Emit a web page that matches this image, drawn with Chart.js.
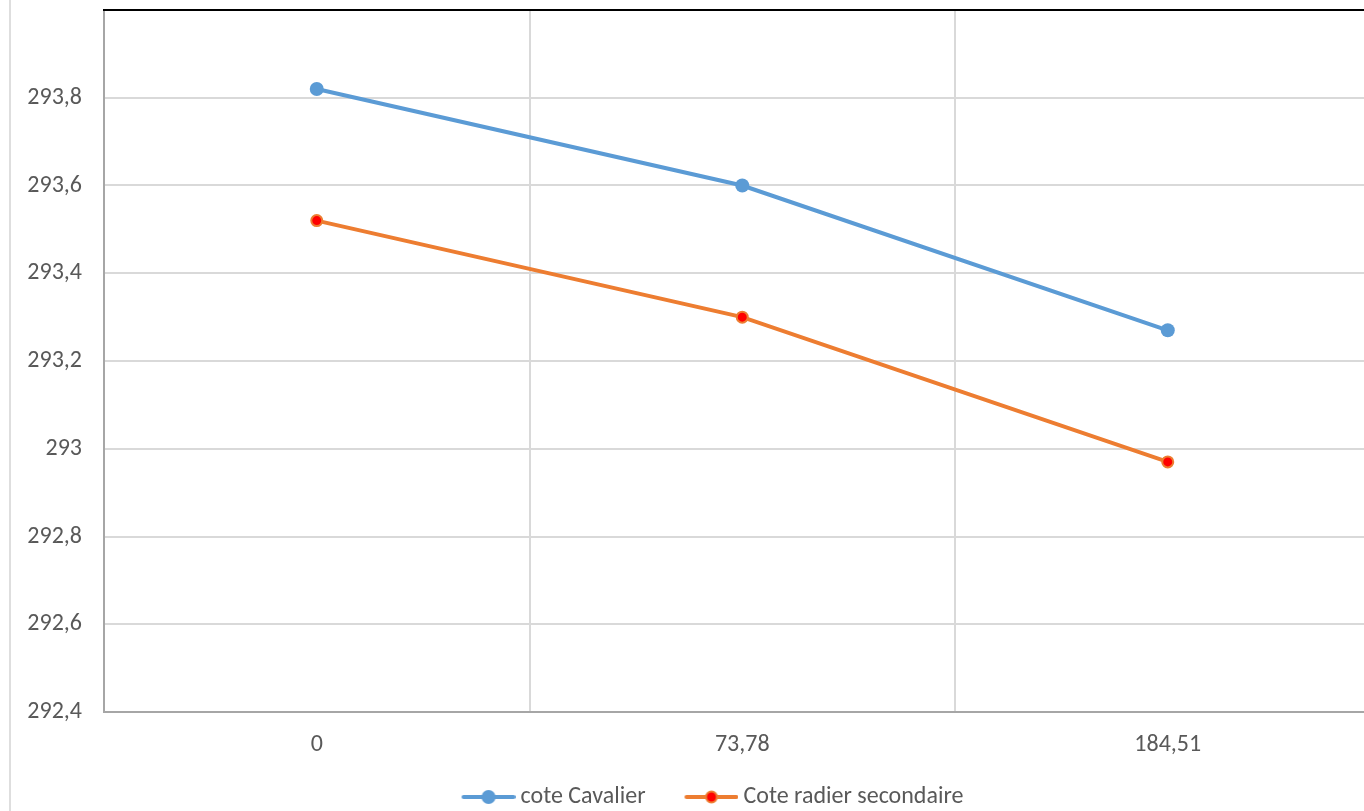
<!DOCTYPE html>
<html>
<head>
<meta charset="utf-8">
<style>
  html, body { margin: 0; padding: 0; background: #fff; overflow: hidden; }
  #wrap { position: relative; width: 1364px; height: 811px; overflow: hidden; }
  #box { position: absolute; left: 0; top: 0; width: 1388px; height: 811px; }
</style>
<script src="https://cdn.jsdelivr.net/npm/chart.js@4/dist/chart.umd.min.js"></script>
</head>
<body>
<div id="wrap"><div id="box"><canvas id="c" width="1388" height="811"></canvas></div></div>
<script>
// Stations (m) along the profile
const stations = ['0', '73,78', '184,51'];
// Elevations (m)
const coteCavalier = [293.82, 293.60, 293.27];
const coteRadierSecondaire = [293.52, 293.30, 292.97];
// Vertical axis
const yMin = 292.4;
const yMax = 294.0;
const yStep = 0.2;

const FONT = "Carlito, Calibri, Lato, sans-serif";
const FONT_SIZE = 24;
const TEXT = '#595959';
const BLUE = '#5b9bd5';
const ORANGE = '#ed7d31';
const RED = '#ff0000';
const LINE_W = 4;

// Legend glyph: short line with a marker in its middle, drawn into a small canvas
function legendGlyph(lineColor, fill, stroke, r, bw) {
  const c = document.createElement('canvas');
  c.width = 80; c.height = 20;
  const g = c.getContext('2d');
  const x0 = 26, x1 = 80, cy = 10;
  g.strokeStyle = lineColor; g.lineWidth = LINE_W; g.lineCap = 'round';
  g.beginPath(); g.moveTo(x0 + 2, cy); g.lineTo(x1 - 2, cy); g.stroke();
  g.beginPath(); g.arc((x0 + x1) / 2, cy, r, 0, Math.PI * 2);
  g.fillStyle = fill; g.fill();
  if (bw) { g.lineWidth = bw; g.strokeStyle = stroke; g.stroke(); }
  return c;
}
const glyphs = [
  legendGlyph(BLUE, BLUE, null, 7, 0),
  legendGlyph(ORANGE, RED, ORANGE, 5.5, 2)
];

const frame = {
  id: 'frame',
  beforeDraw(chart) {
    const ctx = chart.ctx;
    ctx.save();
    ctx.fillStyle = '#dedede';
    ctx.fillRect(9, 0, 2, chart.height);
    ctx.restore();
  },
  afterDraw(chart) {
    const {ctx, chartArea} = chart;
    ctx.save();
    ctx.fillStyle = '#000';
    ctx.fillRect(chartArea.left - 1, chartArea.top - 1, chart.width, 2);
    ctx.restore();
  }
};

const fmt = v => {
  const r = Math.round(v * 10) / 10;
  return String(r).replace('.', ',');
};

new Chart(document.getElementById('c'), {
  type: 'line',
  data: {
    labels: stations,
    datasets: [
      {
        label: 'cote Cavalier',
        data: coteCavalier,
        borderColor: BLUE,
        backgroundColor: BLUE,
        borderWidth: LINE_W,
        pointRadius: 7,
        pointBorderWidth: 0,
        pointBackgroundColor: BLUE,
        pointStyle: 'circle',
        tension: 0
      },
      {
        label: 'Cote radier secondaire',
        data: coteRadierSecondaire,
        borderColor: ORANGE,
        backgroundColor: RED,
        borderWidth: LINE_W,
        pointRadius: 5.5,
        pointBorderWidth: 2,
        pointBorderColor: ORANGE,
        pointBackgroundColor: RED,
        pointStyle: 'circle',
        tension: 0
      }
    ]
  },
  options: {
    responsive: false,
    animation: false,
    layout: { padding: { left: 18, top: 10, right: 0, bottom: 0 } },
    plugins: {
      tooltip: { enabled: false },
      legend: {
        position: 'bottom',
        maxHeight: 46,
        labels: {
          color: TEXT,
          font: { family: FONT, size: FONT_SIZE },
          usePointStyle: true,
          pointStyleWidth: 66,
          boxHeight: 20,
          padding: 20,
          generateLabels(chart) {
            return chart.data.datasets.map((ds, i) => ({
              text: ds.label,
              fontColor: TEXT,
              pointStyle: glyphs[i],
              lineWidth: 0,
              strokeStyle: 'transparent',
              fillStyle: 'transparent',
              datasetIndex: i,
              hidden: false
            }));
          }
        }
      }
    },
    scales: {
      x: {
        offset: true,
        grid: { offset: true, color: '#d9d9d9', lineWidth: 2, drawTicks: false },
        border: { color: '#a6a6a6', width: 2 },
        ticks: { color: TEXT, font: { family: FONT, size: FONT_SIZE }, padding: 19, maxRotation: 0 },
        afterFit(scale) {
          const lg = scale.chart.legend ? scale.chart.legend.height : 0;
          scale.height = 811 - 712 - lg;
        }
      },
      y: {
        min: yMin,
        max: yMax,
        grid: { color: '#d9d9d9', lineWidth: 2, drawTicks: false },
        border: { color: '#a6a6a6', width: 2 },
        ticks: {
          stepSize: yStep,
          color: TEXT,
          font: { family: FONT, size: FONT_SIZE },
          padding: 22,
          callback: v => fmt(v)
        },
        afterBuildTicks(scale) {
          scale.ticks = scale.ticks.filter(t => t.value < yMax - 1e-6);
        },
        afterFit(scale) {
          scale.width = 86;
          scale.paddingTop = 0;
          scale.paddingBottom = 0;
        }
      }
    }
  },
  plugins: [frame]
});
</script>
</body>
</html>
